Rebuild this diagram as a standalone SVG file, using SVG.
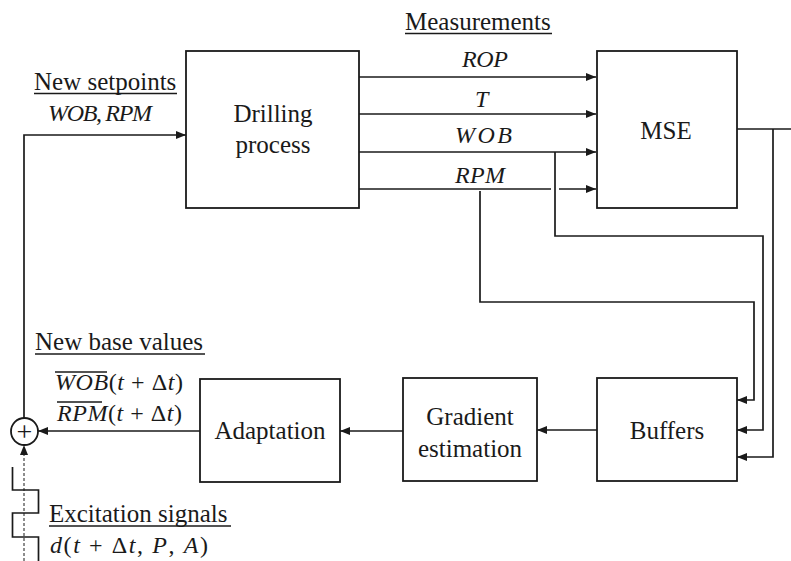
<svg xmlns="http://www.w3.org/2000/svg" width="791" height="561" viewBox="0 0 791 561">
  <style>
    .box { fill: #ffffff; stroke: #1a1a1a; stroke-width: 1.8; }
    .wire { fill: none; stroke: #1a1a1a; stroke-width: 1.7; }
    .dash { fill: none; stroke: #1a1a1a; stroke-width: 1; stroke-dasharray: 3 2; }
    .ul { stroke: #1a1a1a; stroke-width: 1.4; }
    .lbl { font-family: 'Liberation Serif', 'Times New Roman', serif; font-size: 25px; fill: #1a1a1a; }
    .mid { text-anchor: middle; }
    .math { font-family: 'Liberation Serif', 'Times New Roman', serif; font-size: 24px; font-style: italic; fill: #1a1a1a; }
    .up { font-style: normal; }
  </style>
  <defs>
    <marker id="arr" markerUnits="userSpaceOnUse" markerWidth="10" markerHeight="8" refX="10" refY="4" orient="auto">
      <path d="M0,0 L10,4 L0,8 Z" fill="#1a1a1a"/>
    </marker>
  </defs>

  <g id="connectors">
    <line class="wire" x1="359" y1="77" x2="596" y2="77" marker-end="url(#arr)"/>
    <line class="wire" x1="359" y1="114" x2="596" y2="114" marker-end="url(#arr)"/>
    <line class="wire" x1="359" y1="152" x2="596" y2="152" marker-end="url(#arr)"/>
    <line class="wire" x1="359" y1="189" x2="551" y2="189"/>
    <line class="wire" x1="559" y1="189" x2="596" y2="189" marker-end="url(#arr)"/>
    <polyline class="wire" points="555,152 555,236 763,236 763,430 737,430" marker-end="url(#arr)"/>
    <polyline class="wire" points="480,191 480,302 754,302 754,400 737,400" marker-end="url(#arr)"/>
    <line class="wire" x1="737" y1="129" x2="791" y2="129"/>
    <polyline class="wire" points="773,129 773,457 737,457" marker-end="url(#arr)"/>
    <line class="wire" x1="597" y1="430" x2="537" y2="430" marker-end="url(#arr)"/>
    <line class="wire" x1="403" y1="431" x2="340" y2="431" marker-end="url(#arr)"/>
    <line class="wire" x1="200" y1="431" x2="38" y2="431" marker-end="url(#arr)"/>
    <polyline class="wire" points="24,418 24,135 186,135" marker-end="url(#arr)"/>
    <line class="dash" x1="24" y1="561" x2="24" y2="445" marker-end="url(#arr)"/>
    <polyline class="wire" points="12.5,467 12.5,490 38.5,490 38.5,513 12.5,513 12.5,537 38.5,537 38.5,561"/>
  </g>

  <g id="drilling">
    <rect class="box" x="186" y="51" width="173" height="157"/>
    <text class="lbl mid" x="273" y="122">Drilling</text>
    <text class="lbl mid" x="273" y="153">process</text>
  </g>

  <g id="mse">
    <rect class="box" x="597" y="51" width="140" height="157"/>
    <text class="lbl mid" x="666" y="139">MSE</text>
  </g>

  <g id="buffers">
    <rect class="box" x="597" y="378" width="140" height="103"/>
    <text class="lbl mid" x="667" y="439">Buffers</text>
  </g>

  <g id="gradient">
    <rect class="box" x="403" y="378" width="134" height="103"/>
    <text class="lbl mid" x="470" y="425">Gradient</text>
    <text class="lbl mid" x="470" y="457">estimation</text>
  </g>

  <g id="adaptation">
    <rect class="box" x="200" y="379" width="140" height="103"/>
    <text class="lbl mid" x="270" y="439">Adaptation</text>
  </g>

  <g id="sum">
    <circle class="box" cx="24.5" cy="431.5" r="13.5"/>
    <text class="lbl mid" x="24.5" y="441" style="font-size:28px">+</text>
  </g>

  <g id="labels">
    <text class="lbl" x="405" y="29.5">Measurements</text>
    <line class="ul" x1="405" y1="33.5" x2="552" y2="33.5"/>
    <text class="math" x="462" y="67" textLength="46" lengthAdjust="spacing">ROP</text>
    <text class="math" x="475" y="106.5">T</text>
    <text class="math" x="455" y="143" textLength="57" lengthAdjust="spacing">WOB</text>
    <text class="math" x="455" y="183" textLength="50" lengthAdjust="spacing">RPM</text>

    <text class="lbl" x="34" y="90">New setpoints</text>
    <line class="ul" x1="34" y1="93.5" x2="177" y2="93.5"/>
    <text class="math" x="48" y="121" textLength="104" lengthAdjust="spacing">WOB<tspan class="up">, </tspan>RPM</text>

    <text class="lbl" x="35" y="350">New base values</text>
    <line class="ul" x1="35" y1="354" x2="205" y2="354"/>
    <line class="ul" x1="55" y1="372" x2="107" y2="372"/>
    <text class="math" x="55" y="390" textLength="128" lengthAdjust="spacing">WOB<tspan class="up">(</tspan>t<tspan class="up"> + Δ</tspan>t<tspan class="up">)</tspan></text>
    <line class="ul" x1="57" y1="402" x2="102" y2="402"/>
    <text class="math" x="57" y="421" textLength="125" lengthAdjust="spacing">RPM<tspan class="up">(</tspan>t<tspan class="up"> + Δ</tspan>t<tspan class="up">)</tspan></text>

    <text class="lbl" x="49" y="521.5">Excitation signals</text>
    <line class="ul" x1="49" y1="526" x2="231" y2="526"/>
    <text class="math" x="50" y="553" textLength="158" lengthAdjust="spacing">d<tspan class="up">(</tspan>t<tspan class="up"> + Δ</tspan>t<tspan class="up">, </tspan>P<tspan class="up">, </tspan>A<tspan class="up">)</tspan></text>
  </g>
</svg>
